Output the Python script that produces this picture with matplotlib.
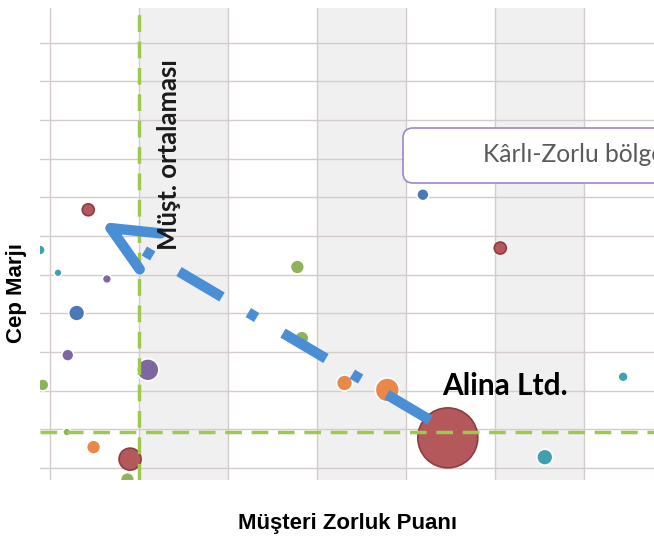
import matplotlib
matplotlib.use("Agg")
import matplotlib.pyplot as plt
from matplotlib.patches import FancyBboxPatch

plt.rcParams['lines.scale_dashes'] = False

# Müşteri verileri: zorluk puanı (x), cep marjı (y), kabarcık büyüklüğü, renk
zorluk = [0.43, -0.11, 0.09, 0.64, 0.30, 0.20, 1.10, -0.08, 0.19, 0.49, 0.90, 0.87,
          2.78, 2.83, 3.31, 3.79, 4.47, 5.56, 6.44, 4.19, 5.06]
marj = [6.68, 5.64, 5.05, 4.89, 4.01, 2.92, 2.54, 2.15, 0.93, 0.54, 0.23, -0.30,
        5.20, 3.36, 2.20, 2.02, 0.78, 0.28, 2.36, 7.07, 5.69]
buyukluk = [36, 25, 16, 20, 64, 36, 121, 36, 16, 49, 121, 49,
            49, 49, 64, 144, 900, 64, 25, 36, 36]
renkler = ['#b5585c', '#3fa0b0', '#3fa0b0', '#7d679e', '#4a79b5', '#7d679e', '#7d679e',
           '#8fb35a', '#8fb35a', '#e8894a', '#b5585c', '#8fb35a',
           '#8fb35a', '#8fb35a', '#e8894a', '#e8894a', '#b5585c', '#3fa0b0', '#3fa0b0',
           '#4a79b5', '#b5585c']

ort_x = 1.0    # müşteri ortalaması (zorluk)
ort_y = 0.93   # müşteri ortalaması (marj)

ok_bas = (4.27, 1.24)
ok_son = (0.56, 6.37)

fig = plt.figure(figsize=(6.54, 5.39), dpi=100)
ax = fig.add_axes([40/654, 59/539, 614/654, 472/539])
ax.set_xlim(-0.112, 6.787)
ax.set_ylim(-0.31, 11.9)

# arka plan bantları ve ızgara
for b in [1, 3, 5]:
    ax.axvspan(b, b + 1, color='#f0f0f0', zorder=0, lw=0)
for gx in range(0, 7):
    ax.axvline(gx, color='#d3cccb', lw=1, zorder=1)
for gy in range(0, 12):
    ax.axhline(gy, color='#d3cccb', lw=1, zorder=1)

for s in ax.spines.values():
    s.set_visible(False)
ax.set_xticks([])
ax.set_yticks([])

edge = ['#8e3c40' if c == '#b5585c' else 'white' for c in renkler]
ax.scatter(zorluk, marj, s=[b * 2.07 for b in buyukluk], c=renkler,
           edgecolors=edge, linewidths=1.2, zorder=3)

# ortalama çizgileri
ax.axvline(ort_x, color='#9dc94e', lw=2.5, dashes=(12, 7), zorder=4)
ax.axhline(ort_y, color='#9dc94e', lw=2.5, dashes=(12, 7), zorder=4)

# ok
ax.plot([ok_bas[0], 0.85], [ok_bas[1], 5.9], color='#4a8fd6',
        lw=7.5, dashes=(36, 22, 7, 22), solid_capstyle='butt', zorder=5)
ax.annotate('', xy=ok_son, xytext=(ok_son[0] + 0.2, ok_son[1] - 0.27),
            arrowprops=dict(arrowstyle='->,head_length=3.3,head_width=1.5',
                            color='#4a8fd6', lw=7.5, mutation_scale=10,
                            shrinkA=0, shrinkB=0),
            zorder=5)

ax.text(1.34, 8.1, 'Müşt. ortalaması', rotation=90, ha='center', va='center',
        fontsize=18.5, fontweight='bold', family='Lato', color='#1a1a1a', zorder=6)
ax.text(5.11, 2.12, 'Alina Ltd.', ha='center', va='center', fontsize=21.5,
        fontweight='bold', family='Lato', color='black', zorder=6)

kutu = FancyBboxPatch((4.03, 3.56), 3.2, 0.55, boxstyle='round,pad=0,rounding_size=0.1',
                      transform=fig.dpi_scale_trans, facecolor='white',
                      edgecolor='#9d86c9', lw=1.2, zorder=6, clip_on=False)
ax.add_patch(kutu)
fig.text(483/654, (539-155)/539, 'Kârlı-Zorlu bölge', ha='left', va='center',
         fontsize=17.7, family='Lato', color='#5a5a5a', zorder=7)

fig.text(348/654, (539-523)/539, 'Müşteri Zorluk Puanı', ha='center', va='center',
         fontsize=16, fontweight='bold', family='Liberation Sans')
fig.text(17/654, (539-293)/539, 'Cep Marjı', ha='center', va='center', rotation=90,
         fontsize=16, fontweight='bold', family='Liberation Sans')

fig.savefig('out.png', dpi=100)
